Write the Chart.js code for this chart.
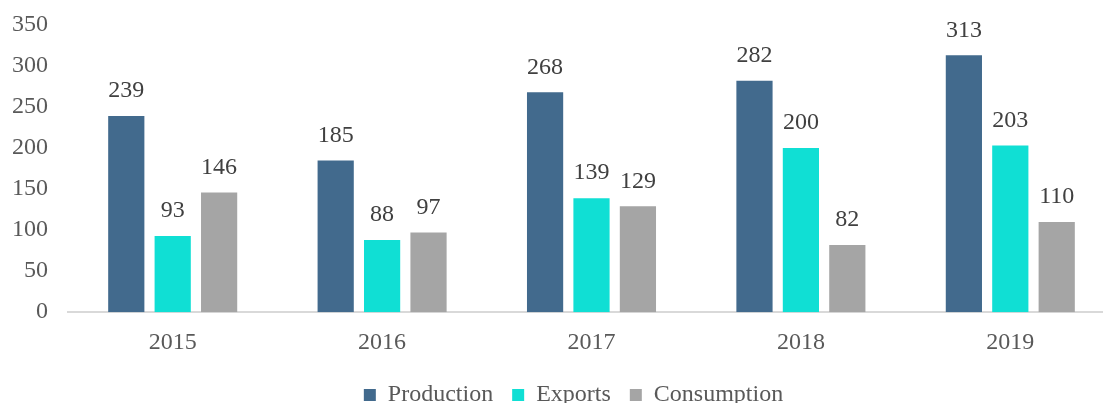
<!DOCTYPE html>
<html>
<head>
<meta charset="utf-8">
<script src="https://cdn.jsdelivr.net/npm/chart.js@4/dist/chart.umd.min.js"></script>
<style>
  html, body { margin: 0; padding: 0; background: #fff; overflow: hidden; }
  #wrap { width: 1115px; height: 403px; }
</style>
</head>
<body>
<div id="wrap"><canvas id="chart"></canvas></div>
<script>
// Data
const years = ['2015', '2016', '2017', '2018', '2019'];
const production = [239, 185, 268, 282, 313];
const exportsData = [93, 88, 139, 200, 203];
const consumption = [146, 97, 129, 82, 110];
const yTicks = [0, 50, 100, 150, 200, 250, 300, 350];

const FONT = '"Liberation Serif", "Times New Roman", serif';

// Draw value labels above each bar
const valueLabels = {
    id: 'valueLabels',
    afterDatasetsDraw(chart) {
        const ctx = chart.ctx;
        ctx.save();
        ctx.font = '24px ' + FONT;
        ctx.fillStyle = '#404040';
        ctx.textAlign = 'center';
        ctx.textBaseline = 'middle';
        chart.data.datasets.forEach((ds, i) => {
            chart.getDatasetMeta(i).data.forEach((bar, j) => {
                ctx.fillText(ds.data[j], bar.x, bar.y - 25);
            });
        });
        ctx.restore();
    }
};

// Nudge the legend to where it sits in the reference
const legendShift = {
    id: 'legendShift',
    afterLayout(chart) {
        const lg = chart.legend;
        const dx = 16, dy = 14;
        lg.left += dx; lg.right += dx;
        lg.top += dy; lg.bottom += dy;
    }
};

new Chart(document.getElementById('chart'), {
    type: 'bar',
    data: {
        labels: years,
        datasets: [
            { label: 'Production', data: production, backgroundColor: '#426A8D' },
            { label: 'Exports', data: exportsData, backgroundColor: '#10DFD4' },
            { label: 'Consumption', data: consumption, backgroundColor: '#A5A5A5' }
        ]
    },
    options: {
        responsive: true,
        maintainAspectRatio: false,
        animation: false,
        categoryPercentage: 0.665,
        barPercentage: 0.78,
        layout: { padding: { top: 25, left: 0, right: 0, bottom: 0 } },
        plugins: {
            legend: {
                position: 'bottom',
                labels: {
                    font: { family: FONT, size: 24 },
                    color: '#595959',
                    boxWidth: 12,
                    boxHeight: 12,
                    padding: 19
                }
            },
            tooltip: { enabled: false }
        },
        scales: {
            x: {
                afterFit: (axis) => { axis.height -= 23; },
                grid: { display: false, drawTicks: false },
                border: { color: '#D9D9D9', width: 2 },
                ticks: {
                    font: { family: FONT, size: 24 },
                    color: '#595959',
                    padding: 16
                }
            },
            y: {
                min: 0,
                max: 350,
                afterBuildTicks: (axis) => { axis.ticks = yTicks.map(v => ({ value: v })); },
                afterFit: (axis) => { axis.width = 68; axis.paddingTop = 0; },
                grid: { display: false, drawTicks: false },
                border: { display: false },
                ticks: {
                    font: { family: FONT, size: 24 },
                    color: '#595959',
                    padding: 20
                }
            }
        }
    },
    plugins: [valueLabels, legendShift]
});
</script>
</body>
</html>
